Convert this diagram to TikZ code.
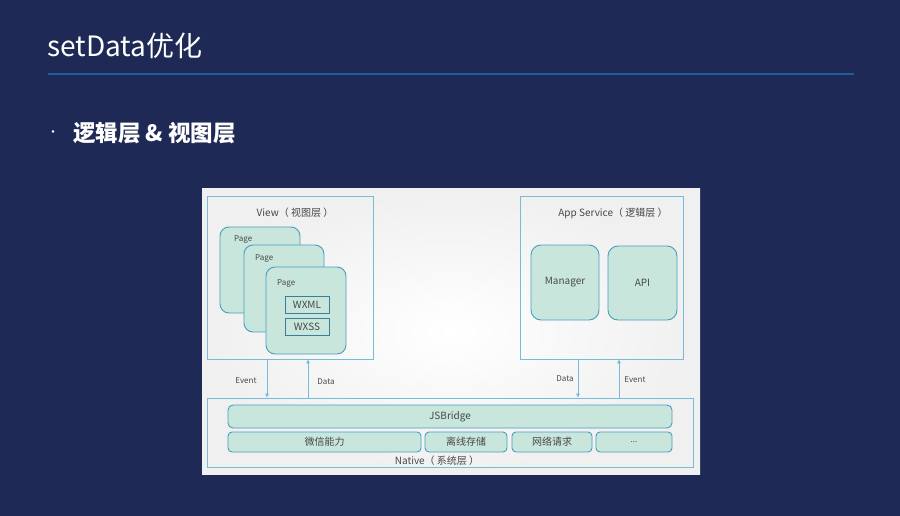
\documentclass[tikz,border=0pt]{standalone}
\usepackage{fontspec}
\setmainfont{Noto Sans CJK SC}
\usetikzlibrary{arrows.meta}

\definecolor{navy}{RGB}{30,42,85}
\definecolor{rulecol}{RGB}{30,95,160}
\definecolor{mint}{RGB}{201,230,220}
\definecolor{edge}{RGB}{72,158,192}
\definecolor{frame}{RGB}{118,188,214}
\definecolor{ink}{RGB}{72,72,72}

\tikzset{
	layer/.style={draw=frame, line width=0.9pt, inner sep=0pt},
	pagebox/.style={draw=edge, fill=mint, line width=0.9pt, rounded corners=9pt, inner sep=0pt},
	tagbox/.style={draw=edge!80!black, fill=mint, line width=0.8pt, inner sep=0pt},
	barbox/.style={draw=edge, fill=mint, line width=0.9pt, rounded corners=4pt, inner sep=0pt},
	txt/.style={text=ink, font=\fontsize{10}{12}\selectfont, inner sep=0pt},
	small/.style={text=ink, font=\fontsize{8}{9}\selectfont, inner sep=0pt},
	flow/.style={draw=frame, line width=0.8pt, -{Triangle[length=4pt,width=3.5pt]}}
}

\begin{document}
\begin{tikzpicture}[x=1pt,y=-1pt]

	% slide
	\fill[navy] (0,0) rectangle (900,516);
	\useasboundingbox (0,0) rectangle (900,516);

	\node[anchor=base west, text=white, inner sep=0pt, font=\fontsize{28}{32}\selectfont] (title) at (47,57) {setData优化};
	\draw[rulecol, line width=1.5pt] (48,74) -- (854,74);
	\node[text=white, inner sep=0pt, font=\fontsize{12}{14}\selectfont] (dot) at (53,134) {•};
	\node[anchor=west, text=white, inner sep=0pt, font=\bfseries\fontsize{22.5}{26}\selectfont] (bullet) at (73,133) {逻辑层 \& 视图层};

	% picture
	\shade[inner color=white, outer color=black!6] (202,189) rectangle (700,474);

	\node[layer, minimum width=166pt, minimum height=163pt] (view) at (290,277.5) {};
	\node[layer, minimum width=163pt, minimum height=163pt] (appsvc) at (601.5,277.5) {};
	\node[layer, minimum width=486pt, minimum height=69pt] (native) at (450,432.5) {};

	\node[txt] (viewtitle) at (295,213) {View（ 视图层 ）};
	\node[txt] (apptitle) at (613,213) {App Service（ 逻辑层 ）};
	\node[txt] (nativetitle) at (437,461) {Native（ 系统层 ）};

	\node[pagebox, minimum width=80pt, minimum height=86pt] (page1) at (260,270) {};
	\node[small, anchor=west] at (234,240) {Page};
	\node[pagebox, minimum width=80pt, minimum height=87pt] (page2) at (284,288.5) {};
	\node[small, anchor=west] at (255,259) {Page};
	\node[pagebox, minimum width=80pt, minimum height=87pt] (page3) at (306,310.5) {};
	\node[small, anchor=west] at (277,284) {Page};
	\node[tagbox, txt, minimum width=44pt, minimum height=17pt] (wxml) at (307,304.5) {WXML};
	\node[tagbox, txt, minimum width=44pt, minimum height=17pt] (wxss) at (307,326.5) {WXSS};

	\node[pagebox, txt, rounded corners=10pt, minimum width=68pt, minimum height=75pt] (manager) at (565,282.5) {Manager};
	\node[pagebox, txt, rounded corners=10pt, minimum width=69pt, minimum height=74pt] (api) at (642.5,283) {API};

	\node[barbox, txt, rounded corners=5pt, minimum width=444pt, minimum height=23pt] (jsb) at (450,416.5) {JSBridge};
	\node[barbox, txt, minimum width=193pt, minimum height=20pt] (wxcap) at (324.5,442) {微信能力};
	\node[barbox, txt, minimum width=82pt, minimum height=20pt] (offline) at (466,442) {离线存储};
	\node[barbox, txt, minimum width=80pt, minimum height=20pt] (network) at (552,442) {网络请求};
	\node[barbox, small, minimum width=76pt, minimum height=20pt] (more) at (634,442) {...};

	% event / data
	\coordinate (evL) at (267,0);
	\coordinate (daL) at (308,0);
	\coordinate (daR) at (578,0);
	\coordinate (evR) at (619,0);

	\draw[flow] (view.south -| evL) -- (native.north -| evL);
	\draw[flow] (native.north -| daL) -- (view.south -| daL);
	\draw[flow] (appsvc.south -| daR) -- (native.north -| daR);
	\draw[flow] (native.north -| evR) -- (appsvc.south -| evR);

	\node[small] at (246,381) {Event};
	\node[small] at (326,382) {Data};
	\node[small] at (565,379) {Data};
	\node[small] at (635,380) {Event};

\end{tikzpicture}
\end{document}
